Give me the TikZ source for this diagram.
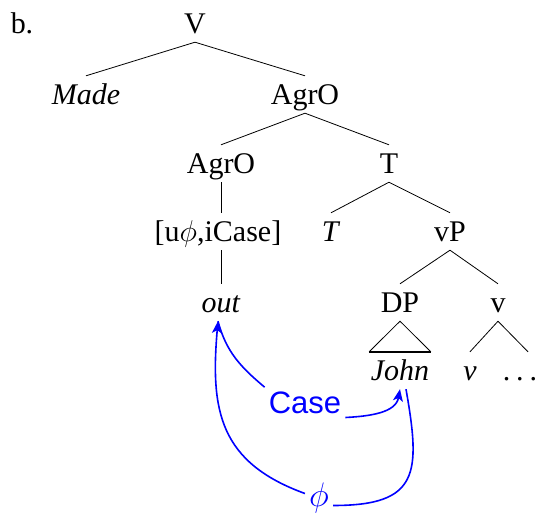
\RequirePackage{fix-cm}
\documentclass[tikz,border=0pt]{standalone}
\usepackage{fontspec}
\setmainfont{Liberation Serif}
\setsansfont{Liberation Sans}
\usetikzlibrary{arrows.meta}
\begin{document}
\begin{tikzpicture}[x=1pt,y=-1pt,
  lbl/.style={anchor=base, inner xsep=0pt, inner ysep=2pt,
    text height=26pt, text depth=7pt, font=\fontsize{30}{36}\selectfont},
  branch/.style={line width=0.8pt},
  agree/.style={blue, line width=1.6pt},
  tip/.style={-{Stealth[length=12pt,width=10pt,inset=3pt]}},
  bluelbl/.style={text=blue, anchor=base, inner sep=4pt}]
\useasboundingbox (0,0) rectangle (539,514);

% tree labels
\node[lbl] (b) at (22,33) {b.};
\node[lbl] (V) at (195,33) {V};
\node[lbl] (made) at (86,104) {\textit{Made}};
\node[lbl] (agro1) at (305,104) {AgrO};
\node[lbl] (agro2) at (221,173) {AgrO};
\node[lbl] (T) at (389,173) {T};
\node[lbl] (feat) at (218,241) {[u$\phi$,iCase]};
\node[lbl] (Tlow) at (331,241) {\textit{T}};
\node[lbl] (vP) at (450,241) {vP};
\node[lbl] (out) at (221,312) {\textit{out}};
\node[lbl] (DP) at (400,312) {DP};
\node[lbl] (vbar) at (498,312) {v};
\node[lbl, inner xsep=1.5pt] (john) at (400,380) {\textit{John}};
\node[lbl] (vhead) at (470,380) {\textit{v}};
\node[lbl] (dots) at (520,380) {.\kern.2em.\kern.2em.};

% branches
\draw[branch] (V.south) -- (made.north);
\draw[branch] (V.south) -- (agro1.north);
\draw[branch] (agro1.south) -- (agro2.north);
\draw[branch] (agro1.south) -- (T.north);
\draw[branch] (agro2.south) -- (agro2.south |- feat.north);
\draw[branch] (feat.south -| out.south) -- (out.north);
\draw[branch] (T.south) -- (Tlow.north);
\draw[branch] (T.south) -- (vP.north);
\draw[branch] (vP.south) -- (DP.north);
\draw[branch] (vP.south) -- (vbar.north);
\draw[branch] (vbar.south) -- (vhead.north);
\draw[branch] (vbar.south) -- ([xshift=8pt]dots.north);
% triangle over John
\draw[branch] (john.north west) -- (DP.south) -- (john.north east);
\draw[line width=1.6pt] (john.north west) -- (john.north east);

% agreement arrows
\node[bluelbl, font=\sffamily\fontsize{31}{36}\selectfont] (case) at (305,413) {Case};
\node[bluelbl, font=\fontsize{34}{40}\selectfont] (phi) at (319,506) {$\phi$};

\draw[agree] (case.north west) to[out=140,in=-75] ([xshift=-3pt]out.south);
\draw[agree, tip] (case.south east) to[out=3,in=-100] (john.south);
\draw[agree, tip] ([yshift=4pt]phi.west) to[out=160,in=-95,looseness=1.2] ([xshift=-3pt]out.south);
\draw[agree] ([yshift=-8pt]phi.east) to[out=0,in=-80,looseness=1.6] ([xshift=6pt]john.south);
\end{tikzpicture}
\end{document}
